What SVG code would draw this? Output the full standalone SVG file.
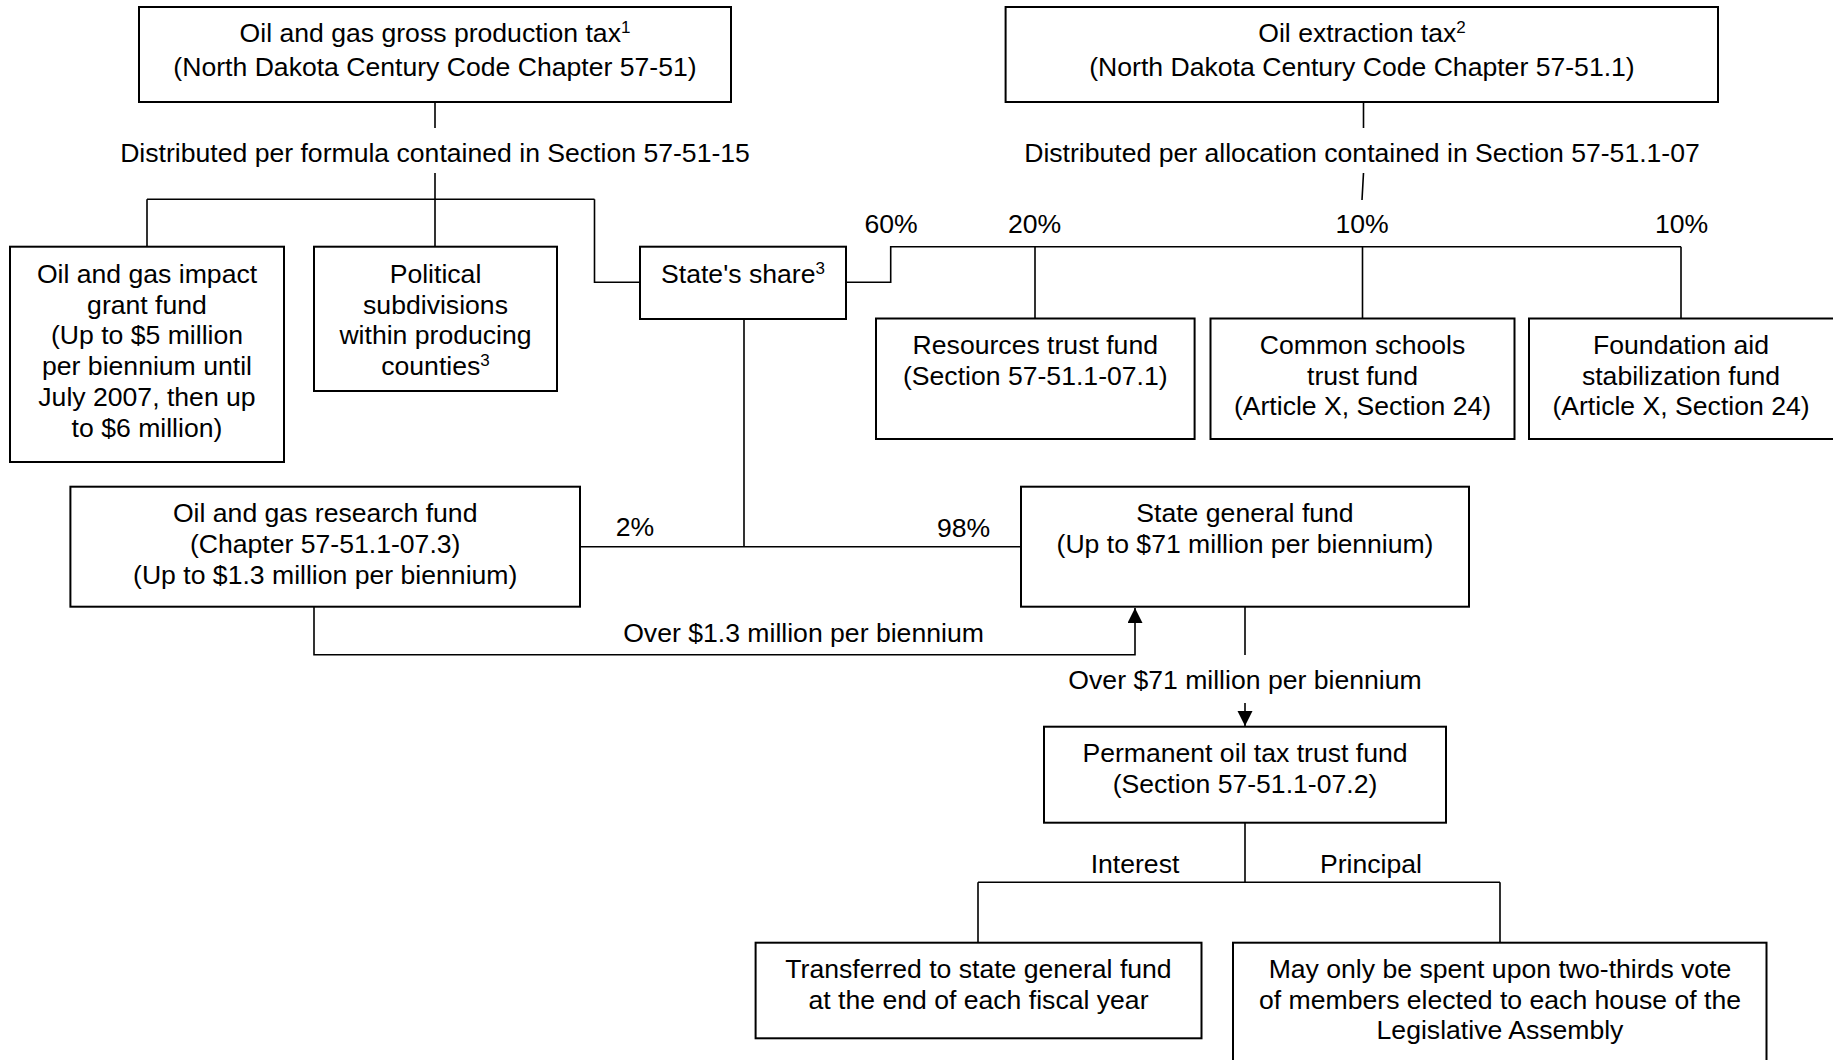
<svg xmlns="http://www.w3.org/2000/svg" width="1833" height="1060" viewBox="0 0 1833 1060">
<defs>
<style>
.box{fill:#fff;stroke:#000;stroke-width:2}
.ln{fill:none;stroke:#000;stroke-width:1.6}
text{font-family:"Liberation Sans",Arial,sans-serif;font-size:26.6px;fill:#000;text-anchor:middle}
.sup{font-size:17px}
</style>
<marker id="ah" markerUnits="userSpaceOnUse" markerWidth="16" markerHeight="16" refX="15" refY="7.5" orient="auto">
<path d="M0,0 L15,7.5 L0,15 z" fill="#000"/>
</marker>
</defs>
<rect width="1833" height="1060" fill="#fff"/>
<g id="connectors">
<path class="ln" d="M435,102 V128 M435,173 V199.3 M147,199.3 H594.5 M147,199.3 V246.7 M435,199.3 V246.7 M594.5,199.3 V282.3 H640"/>
<path class="ln" d="M846,282.3 H890.7 V246.7 H1681 M1035,246.7 V318.5 M1362.5,246.7 V318.5 M1681,246.7 V318.5"/>
<path class="ln" d="M1363.5,102 V128 M1363.5,173 L1362,200"/>
<path class="ln" d="M744,319 V546.7 M580,546.7 H1021"/>
<path class="ln" d="M314,606.7 V654.7 H1135 V608" marker-end="url(#ah)"/>
<path class="ln" d="M1245,606.7 V655"/>
<path class="ln" d="M1245,703 V726" marker-end="url(#ah)"/>
<path class="ln" d="M1245,822.7 V882.3 M978,882.3 H1500 M978,882.3 V942.7 M1500,882.3 V942.7"/>
<text x="435" y="161.5">Distributed per formula contained in Section 57-51-15</text>
<text x="1362" y="161.5">Distributed per allocation contained in Section 57-51.1-07</text>
<text x="891" y="233">60%</text>
<text x="1034.5" y="233">20%</text>
<text x="1362" y="233">10%</text>
<text x="1681.5" y="233">10%</text>
<text x="635" y="535.5">2%</text>
<text x="963.5" y="536.5">98%</text>
<text x="803.5" y="641.5">Over $1.3 million per biennium</text>
<text x="1245" y="689">Over $71 million per biennium</text>
<text x="1135" y="873">Interest</text>
<text x="1371" y="873">Principal</text>
</g>
<g id="gross-production-tax">
<rect class="box" x="139" y="7" width="592" height="95"/>
<text x="435" y="42">Oil and gas gross production tax<tspan class="sup" dy="-9">1</tspan></text>
<text x="435" y="76">(North Dakota Century Code Chapter 57-51)</text>
</g>
<g id="oil-extraction-tax">
<rect class="box" x="1005.6" y="7" width="712.4" height="95"/>
<text x="1362" y="42">Oil extraction tax<tspan class="sup" dy="-9">2</tspan></text>
<text x="1362" y="76">(North Dakota Century Code Chapter 57-51.1)</text>
</g>
<g id="impact-grant-fund">
<rect class="box" x="10" y="246.7" width="274" height="215.3"/>
<text x="147" y="283">Oil and gas impact</text>
<text x="147" y="313.7">grant fund</text>
<text x="147" y="344.4">(Up to $5 million</text>
<text x="147" y="375.1">per biennium until</text>
<text x="147" y="405.8">July 2007, then up</text>
<text x="147" y="436.5">to $6 million)</text>
</g>
<g id="political-subdivisions">
<rect class="box" x="314" y="246.7" width="243" height="144.3"/>
<text x="435.5" y="283">Political</text>
<text x="435.5" y="313.7">subdivisions</text>
<text x="435.5" y="344.4">within producing</text>
<text x="435.5" y="375.1">counties<tspan class="sup" dy="-9">3</tspan></text>
</g>
<g id="states-share">
<rect class="box" x="640" y="246.7" width="206" height="72.3"/>
<text x="743" y="283">State's share<tspan class="sup" dy="-9">3</tspan></text>
</g>
<g id="resources-trust-fund">
<rect class="box" x="876" y="318.5" width="318.6" height="120.5"/>
<text x="1035.3" y="353.8">Resources trust fund</text>
<text x="1035.3" y="384.5">(Section 57-51.1-07.1)</text>
</g>
<g id="common-schools-trust-fund">
<rect class="box" x="1210.5" y="318.5" width="304" height="120.5"/>
<text x="1362.5" y="353.8">Common schools</text>
<text x="1362.5" y="384.5">trust fund</text>
<text x="1362.5" y="415.2">(Article X, Section 24)</text>
</g>
<g id="foundation-aid-stabilization-fund">
<rect class="box" x="1529" y="318.5" width="320" height="120.5"/>
<text x="1681" y="353.8">Foundation aid</text>
<text x="1681" y="384.5">stabilization fund</text>
<text x="1681" y="415.2">(Article X, Section 24)</text>
</g>
<g id="research-fund">
<rect class="box" x="70.4" y="486.7" width="509.6" height="120"/>
<text x="325.2" y="522.2">Oil and gas research fund</text>
<text x="325.2" y="552.9">(Chapter 57-51.1-07.3)</text>
<text x="325.2" y="583.6">(Up to $1.3 million per biennium)</text>
</g>
<g id="state-general-fund">
<rect class="box" x="1021" y="486.7" width="448" height="120"/>
<text x="1245" y="522.2">State general fund</text>
<text x="1245" y="552.9">(Up to $71 million per biennium)</text>
</g>
<g id="permanent-oil-tax-trust-fund">
<rect class="box" x="1044" y="726.7" width="402" height="96"/>
<text x="1245" y="762">Permanent oil tax trust fund</text>
<text x="1245" y="792.7">(Section 57-51.1-07.2)</text>
</g>
<g id="interest-transfer">
<rect class="box" x="755.6" y="942.7" width="445.9" height="95.6"/>
<text x="978.5" y="978">Transferred to state general fund</text>
<text x="978.5" y="1008.7">at the end of each fiscal year</text>
</g>
<g id="principal-restriction">
<rect class="box" x="1233" y="942.7" width="533.5" height="130"/>
<text x="1500" y="978">May only be spent upon two-thirds vote</text>
<text x="1500" y="1008.7">of members elected to each house of the</text>
<text x="1500" y="1039.4">Legislative Assembly</text>
</g>
</svg>
